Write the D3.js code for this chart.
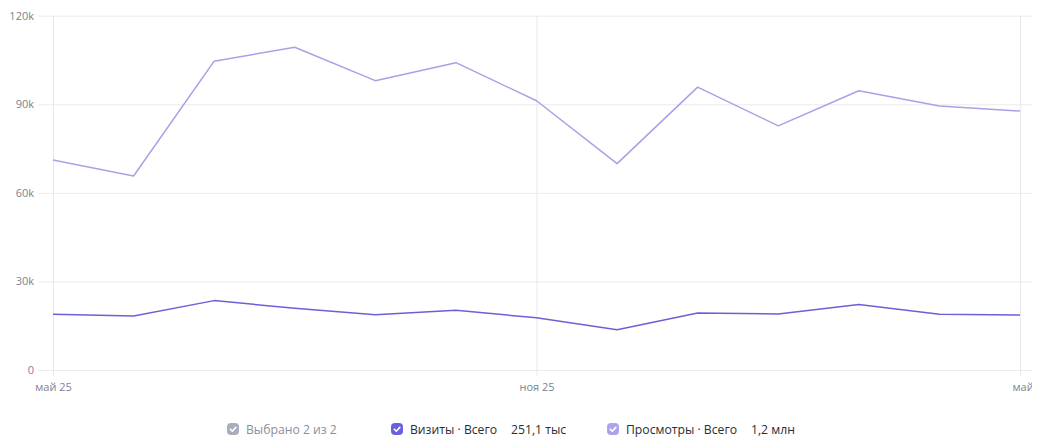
<!DOCTYPE html>
<html><head><meta charset="utf-8">
<script src="https://cdn.jsdelivr.net/npm/d3@7"></script>
<style>
html,body{margin:0;padding:0;background:#fff;}
svg{display:block;font-family:"Open Sans",sans-serif;}
</style></head>
<body><svg id="c" width="1054" height="446"></svg>
<script>
const months = ["2025-05","2025-06","2025-07","2025-08","2025-09","2025-10","2025-11","2025-12","2026-01","2026-02","2026-03","2026-04","2026-05"];
const visits = [18.9,18.3,23.5,20.9,18.7,20.2,17.7,13.6,19.3,19.0,22.2,18.9,18.6].map(v=>v*1000);
const views = [71.1,65.7,104.6,109.3,98.0,104.1,91.2,69.9,95.8,82.7,94.6,89.4,87.7].map(v=>v*1000);
const yTicks = [0,30000,60000,90000,120000];
const yTickLabels = ["0","30k","60k","90k","120k"];
const xTickIdx = [0,6,12];
const xTickLabels = ["май 25","ноя 25","май 26"];
const legendItems = [
  {label:"Выбрано 2 из 2", total:"", color:"#a9adbb", text:"#8a8f9c"},
  {label:"Визиты · Всего", total:"251,1 тыс", color:"#6b61dc", text:"#2b2d33"},
  {label:"Просмотры · Всего", total:"1,2 млн", color:"#aba4ec", text:"#2b2d33"}
];

const svg = d3.select("#c");
const x = d3.scalePoint().domain(months).range([53,1020]);
const y = d3.scaleLinear().domain([0,120000]).range([370,15.7]);

svg.append("defs").append("clipPath").attr("id","clip")
  .append("rect").attr("x",0).attr("y",-446).attr("width",1032).attr("height",892);

// horizontal grid
const yAxis = d3.axisLeft(y).tickValues(yTicks).tickFormat((d,i)=>yTickLabels[i]).tickSize(-994).tickPadding(4);
const gy = svg.append("g").attr("transform","translate(38,0)").call(yAxis);
gy.select(".domain").remove();
gy.selectAll(".tick line").attr("stroke","#ebebee").attr("stroke-width",1);
gy.selectAll(".tick text").attr("fill","#7d8290").style("font-size","11px").style("font-family","Open Sans, sans-serif");

// vertical grid + x labels
const xAxis = d3.axisBottom(x).tickValues(xTickIdx.map(i=>months[i])).tickFormat((d,i)=>xTickLabels[i]).tickSize(-360).tickPadding(7);
const gx = svg.append("g").attr("transform","translate(0,376)").attr("clip-path","url(#clip)").call(xAxis);
gx.select(".domain").remove();
gx.selectAll(".tick line").attr("stroke","#e8e8ec");
gx.selectAll(".tick text").attr("fill","#7d8290").style("font-size","11px").style("font-family","Open Sans, sans-serif");
gx.selectAll(".tick text").filter((d,i)=>i===xTickIdx.length-1).attr("text-anchor","start").attr("dx",-8);

const line = d3.line().x((d,i)=>x(months[i])).y(d=>y(d));
svg.append("path").datum(views).attr("d",line).attr("fill","none").attr("stroke","#a8a1e6").attr("stroke-width",1.5).attr("stroke-linejoin","round");
svg.append("path").datum(visits).attr("d",line).attr("fill","none").attr("stroke","#6a61d8").attr("stroke-width",1.5).attr("stroke-linejoin","round");

// legend
const lx = [227, 391, 607];
const lg = svg.append("g");
legendItems.forEach((it,i)=>{
  const g = lg.append("g").attr("transform",`translate(${lx[i]},429)`);
  g.append("rect").attr("x",0).attr("y",-6).attr("width",12).attr("height",12).attr("rx",4).attr("fill",it.color);
  g.append("path").attr("d","M3.3,0.2 L5.3,2.2 L8.8,-1.6").attr("fill","none").attr("stroke","#fff").attr("stroke-width",1.6).attr("stroke-linecap","round").attr("stroke-linejoin","round");
  const t = g.append("text").attr("x",19).attr("y",4.5).attr("fill",it.text).style("font-size","12.2px").text(it.label);
  if(it.total){
    const w = t.node().getComputedTextLength();
    g.append("text").attr("x",19+w+14).attr("y",4.5).attr("fill",it.text).style("font-size","12.2px").text(it.total);
  }
});
</script></body></html>
